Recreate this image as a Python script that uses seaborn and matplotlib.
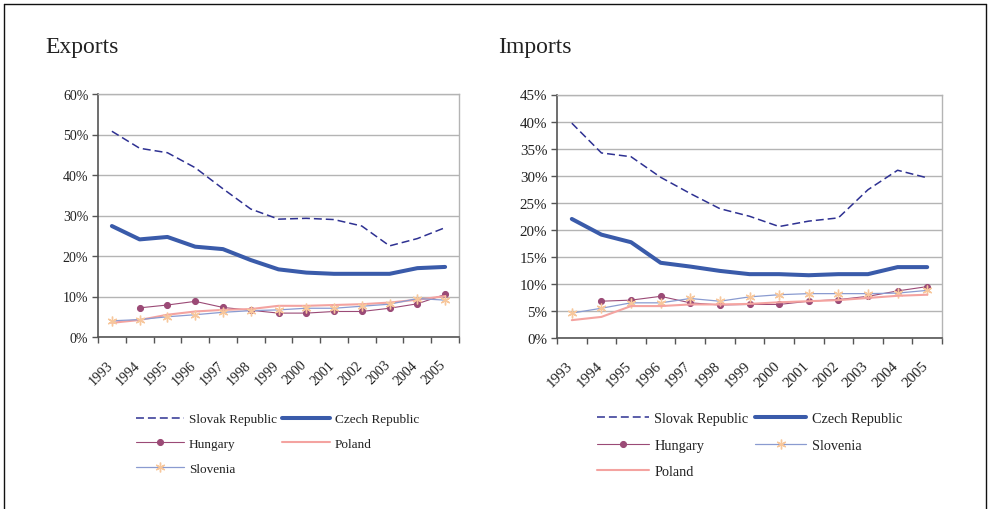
import numpy as np
import matplotlib
matplotlib.use("Agg")
import matplotlib.pyplot as plt
from matplotlib.lines import Line2D
import seaborn as sns

sns.set_style("white")
plt.rcParams["font.family"] = ["Liberation Serif", "DejaVu Serif"]

years = [str(y) for y in range(1993, 2006)]

# shares, in percent
exp_slovak = [50.8, 46.6, 45.5, 41.8, 36.6, 31.6, 29.1, 29.3, 29.0, 27.4, 22.5, 24.3, 27.0]
exp_czech = [27.4, 24.1, 24.7, 22.3, 21.7, 19.0, 16.7, 15.9, 15.6, 15.6, 15.6, 17.0, 17.3]
exp_hungary = [np.nan, 7.2, 7.9, 8.8, 7.3, 6.6, 5.9, 5.9, 6.3, 6.3, 7.1, 8.2, 10.5]
exp_poland = [3.5, 4.2, 5.5, 6.3, 6.7, 6.9, 7.7, 7.7, 7.9, 8.1, 8.5, 9.2, 10.1]
exp_slovenia = [4.0, 4.3, 5.0, 5.5, 6.1, 6.5, 6.7, 7.1, 7.1, 7.6, 8.1, 9.5, 9.1]

imp_slovak = [39.7, 34.2, 33.5, 29.7, 26.7, 23.9, 22.5, 20.6, 21.6, 22.2, 27.4, 31.0, 29.6]
imp_czech = [22.0, 19.1, 17.7, 13.9, 13.2, 12.4, 11.8, 11.8, 11.6, 11.8, 11.8, 13.1, 13.1]
imp_hungary = [np.nan, 6.8, 7.0, 7.7, 6.5, 6.1, 6.2, 6.2, 6.8, 7.1, 7.7, 8.7, 9.5]
imp_slovenia = [4.6, 5.5, 6.5, 6.5, 7.3, 6.8, 7.6, 8.0, 8.2, 8.2, 8.2, 8.3, 8.8]
imp_poland = [3.3, 3.9, 5.9, 5.9, 6.2, 6.2, 6.3, 6.6, 6.8, 7.0, 7.4, 7.8, 8.0]

STYLES = {
    "Slovak Republic": dict(color="#2E3192", lw=1.1, ls=(0, (5.2, 2.6))),
    "Czech Republic": dict(color="#3A5BAA", lw=2.9, ls="-"),
    "Hungary": dict(color="#9B4A76", lw=0.8, ls="-", marker="o", ms=4.3,
                    mec="#9B4A76", mfc="#9B4A76"),
    "Poland": dict(color="#F4A3A0", lw=1.5, ls="-"),
    "Slovenia": dict(color="#8A9BD0", lw=0.9, ls="-", marker=(6, 2, 0), ms=7,
                     mec="#F7C79C", mew=1.0),
}

TEXT = "#222222"
GRID = "#B4B4B4"
SPINE = "#555555"

fig = plt.figure(figsize=(9.89, 5.10), dpi=100)

# outer frame (bottom edge is cut off in the original)
top = 1 - 4.5 / 510
fig.add_artist(Line2D([3.5 / 989, 3.5 / 989], [0, top], color="#111111", lw=1.0))
fig.add_artist(Line2D([3.5 / 989, 985.5 / 989], [top, top], color="#111111", lw=1.0))
fig.add_artist(Line2D([985.5 / 989, 985.5 / 989], [0, top], color="#111111", lw=1.0))


def panel(rect, series, ymax, ystep, title, title_x, legend_order, leg_x, leg_y,
          colspace, fs_tick, fs_leg):
    ax = fig.add_axes(rect)
    x = np.arange(len(years))
    for name, vals in series.items():
        st = STYLES[name]
        kw = dict(color=st["color"], linewidth=st["lw"], linestyle=st["ls"])
        if "marker" in st:
            kw.update(marker=st["marker"], markersize=st["ms"],
                      markeredgecolor=st["mec"], markeredgewidth=st.get("mew", 0.8))
            if "mfc" in st:
                kw["markerfacecolor"] = st["mfc"]
        sns.lineplot(x=x, y=vals, ax=ax, label=name, **kw)
    if ax.get_legend() is not None:
        ax.get_legend().remove()

    ax.set_xlim(-0.5, len(years) - 0.5)
    ax.set_ylim(0, ymax)
    yt = np.arange(0, ymax + 0.1, ystep)
    ax.set_yticks(yt)
    ax.set_yticklabels([f"{int(v)}%" for v in yt], fontsize=fs_tick, color=TEXT)
    ax.yaxis.grid(True, color=GRID, lw=1.0)
    ax.set_axisbelow(True)

    # category boundaries carry the tick marks, labels sit just left of centre
    ax.set_xticks(np.arange(-0.5, len(years), 1))
    ax.set_xticklabels([])
    cat_px = rect[2] * 989 / len(years)
    ax.set_xticks(x - 6 / cat_px, minor=True)
    ax.set_xticklabels(years, minor=True, fontsize=fs_tick, color=TEXT,
                       rotation=45, ha="right", va="top", rotation_mode="anchor")
    ax.tick_params(axis="x", which="minor", length=0, pad=15)
    ax.tick_params(axis="x", which="major", direction="out", length=4,
                   width=1, color=SPINE, bottom=True)
    ax.tick_params(axis="y", direction="out", length=4, width=1, color=SPINE,
                   left=True, pad=3)

    for s in ["left", "bottom"]:
        ax.spines[s].set_color(SPINE)
        ax.spines[s].set_linewidth(1.2)
    for s in ["top", "right"]:
        ax.spines[s].set_color(GRID)
        ax.spines[s].set_linewidth(1.0)
    ax.set_xlabel("")
    ax.set_ylabel("")

    fig.text(title_x, 1 - 48 / 510, title, fontsize=17, va="center", ha="left", color=TEXT)

    handles = {l.get_label(): l for l in ax.get_lines()}
    hs = [handles[n] for n in legend_order]
    fig.legend(hs, legend_order, loc="upper left", bbox_to_anchor=(leg_x, 1 - leg_y / 510),
               ncol=2, frameon=False, fontsize=fs_leg, handlelength=3.6,
               handletextpad=0.4, columnspacing=colspace, labelspacing=0.95,
               borderpad=0, borderaxespad=0, labelcolor=TEXT)
    return ax


panel([98 / 989, 1 - 338 / 510, 361 / 989, 243 / 510],
      {"Slovak Republic": exp_slovak, "Czech Republic": exp_czech,
       "Hungary": exp_hungary, "Poland": exp_poland, "Slovenia": exp_slovenia},
      60, 10, "Exports", 45 / 989,
      ["Slovak Republic", "Hungary", "Slovenia", "Czech Republic", "Poland"],
      136 / 989, 414, 0.4, 10, 9.5)

panel([557 / 989, 1 - 339 / 510, 385 / 989, 243.5 / 510],
      {"Slovak Republic": imp_slovak, "Czech Republic": imp_czech,
       "Hungary": imp_hungary, "Slovenia": imp_slovenia, "Poland": imp_poland},
      45, 5, "Imports", 498 / 989,
      ["Slovak Republic", "Hungary", "Poland", "Czech Republic", "Slovenia"],
      597 / 989, 413, 0.45, 10.8, 10.3)

fig.savefig("out.png", dpi=100)
